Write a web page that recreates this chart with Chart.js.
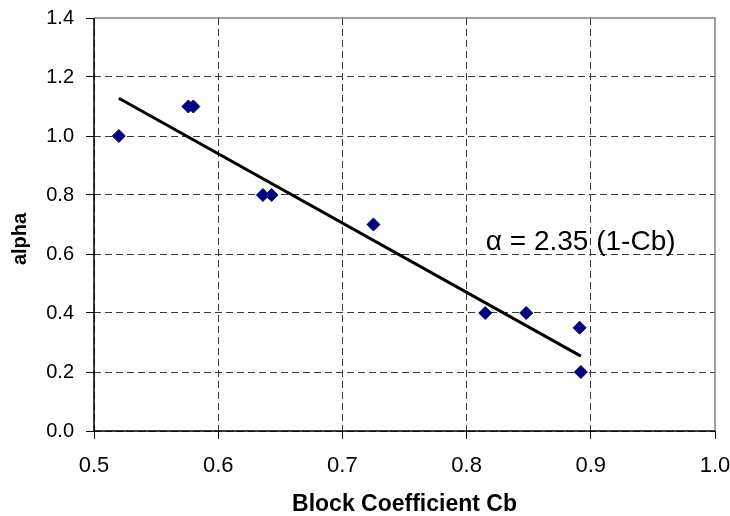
<!DOCTYPE html>
<html>
<head>
<meta charset="utf-8">
<script src="https://cdn.jsdelivr.net/npm/chart.js@4.4.1/dist/chart.umd.min.js"></script>
<style>
  html, body { margin: 0; padding: 0; background: #fff; }
  #wrap { width: 730px; height: 516px; }
</style>
</head>
<body>
<div id="wrap"><canvas id="myChart" width="730" height="516"></canvas></div>
<script>
// measured hull data: block coefficient vs alpha
const cbValues = [0.52, 0.576, 0.58, 0.636, 0.643, 0.725, 0.815, 0.848, 0.891, 0.892];
const alphaValues = [1.0, 1.1, 1.1, 0.8, 0.8, 0.7, 0.4, 0.4, 0.35, 0.2];

// fitted relation alpha = 2.35 (1 - Cb), drawn across the data range
const fitSlope = 2.35;
const fitCb = [0.52, 0.892];

const xTicks = [0.5, 0.6, 0.7, 0.8, 0.9, 1.0];
const yTicks = [0.0, 0.2, 0.4, 0.6, 0.8, 1.0, 1.2, 1.4];

const fitLabel = '\u03B1 = 2.35 (1-Cb)';
const fitLabelAt = { x: 0.8155, y: 0.612 };

document.addEventListener('DOMContentLoaded', function () {
    const ctx = document.getElementById('myChart').getContext('2d');

    const points = cbValues.map((cb, i) => ({ x: cb, y: alphaValues[i] }));
    const fitPoints = fitCb.map(cb => ({ x: cb, y: fitSlope * (1 - cb) }));

    const gridColor = '#3a3a3a';
    const fontFamily = '"Liberation Sans", Arial, sans-serif';

    // plot frame (black axes, gray top/right), the fit label and the y title
    const extras = {
        id: 'extras',
        afterDraw(chart) {
            const { ctx, chartArea: a, scales } = chart;
            ctx.save();
            ctx.strokeStyle = '#808080';
            ctx.lineWidth = 1.5;
            ctx.beginPath();
            ctx.moveTo(a.left, a.top);
            ctx.lineTo(a.right, a.top);
            ctx.lineTo(a.right, a.bottom);
            ctx.stroke();

            ctx.strokeStyle = '#000';
            ctx.beginPath();
            ctx.moveTo(a.left, a.top);
            ctx.lineTo(a.left, a.bottom);
            ctx.lineTo(a.right, a.bottom);
            ctx.stroke();

            ctx.fillStyle = '#000';
            ctx.font = '28px ' + fontFamily;
            ctx.textAlign = 'left';
            ctx.textBaseline = 'alphabetic';
            ctx.fillText(fitLabel, scales.x.getPixelForValue(fitLabelAt.x), scales.y.getPixelForValue(fitLabelAt.y));

            ctx.translate(20, 239);
            ctx.rotate(-Math.PI / 2);
            ctx.font = 'bold 20px ' + fontFamily;
            ctx.textAlign = 'center';
            ctx.textBaseline = 'middle';
            ctx.fillText('alpha', 0, 0);
            ctx.restore();
        }
    };

    new Chart(ctx, {
        type: 'scatter',
        data: {
            datasets: [{
                label: 'data',
                data: points,
                pointStyle: 'rectRot',
                pointRadius: 6.5,
                pointHoverRadius: 6.5,
                backgroundColor: '#000080',
                borderColor: '#000080',
                borderWidth: 1
            }, {
                label: 'fit',
                data: fitPoints,
                showLine: true,
                borderColor: '#000',
                borderWidth: 3,
                pointRadius: 0,
                fill: false
            }]
        },
        options: {
            responsive: false,
            animation: false,
            events: [],
            layout: { padding: { top: 18, right: 15, left: 0, bottom: 0 } },
            plugins: {
                legend: { display: false },
                tooltip: { enabled: false }
            },
            scales: {
                x: {
                    type: 'linear',
                    min: 0.5,
                    max: 1.0,
                    afterBuildTicks: axis => { axis.ticks = xTicks.map(v => ({ value: v })); },
                    afterFit: axis => {
                        axis.height = 85;
                        axis.paddingLeft = 0;
                        axis.paddingRight = 0;
                    },
                    ticks: {
                        color: '#000',
                        padding: 14,
                        font: { family: fontFamily, size: 22 },
                        callback: v => v.toFixed(1)
                    },
                    grid: {
                        color: c => (c.tick && c.tick.value >= 1.0 ? 'transparent' : gridColor),
                        tickColor: '#000',
                        tickLength: 8,
                        tickBorderDash: []
                    },
                    border: { display: false, dash: [7, 4] },
                    title: {
                        display: true,
                        text: 'Block Coefficient Cb',
                        color: '#000',
                        padding: { top: 0, bottom: 0 },
                        font: { family: fontFamily, size: 23, weight: 'bold', lineHeight: 1 }
                    }
                },
                y: {
                    type: 'linear',
                    min: 0,
                    max: 1.4,
                    afterBuildTicks: axis => { axis.ticks = yTicks.map(v => ({ value: v })); },
                    afterFit: axis => {
                        axis.width = 94;
                        axis.paddingTop = 0;
                        axis.paddingBottom = 0;
                    },
                    ticks: {
                        color: '#000',
                        padding: 12,
                        font: { family: fontFamily, size: 20 },
                        callback: v => v.toFixed(1)
                    },
                    grid: {
                        color: c => (c.tick && c.tick.value >= 1.4 ? 'transparent' : gridColor),
                        tickColor: '#000',
                        tickLength: 8,
                        tickBorderDash: []
                    },
                    border: { display: false, dash: [7, 4] }
                }
            }
        },
        plugins: [extras]
    });
});
</script>
</body>
</html>
